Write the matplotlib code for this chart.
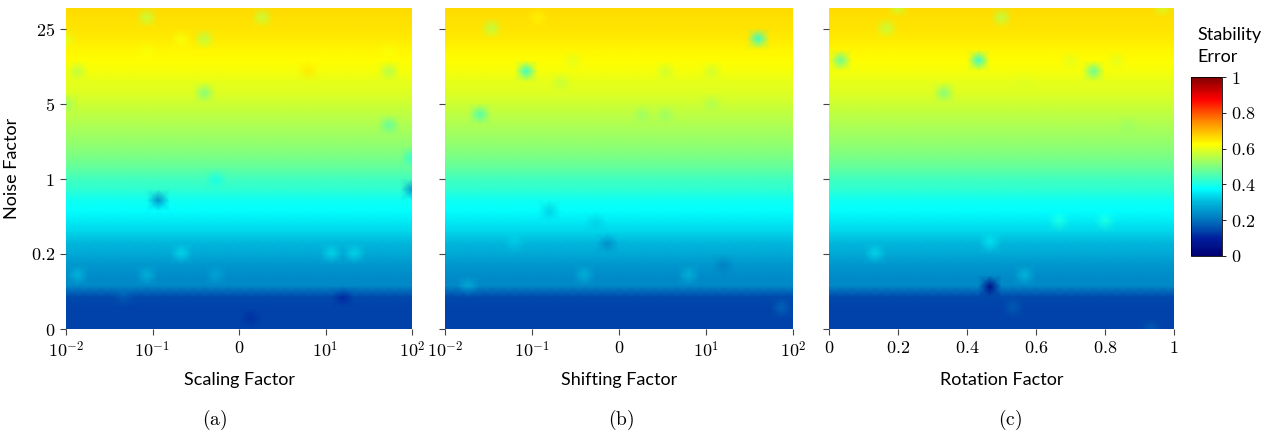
import numpy as np
import matplotlib.pyplot as plt
from matplotlib.colors import LinearSegmentedColormap, Normalize
from matplotlib.cm import ScalarMappable

plt.rcParams['mathtext.fontset'] = 'cm'
plt.rcParams['font.family'] = ['Lato', 'DejaVu Sans']

# noise levels (rows, bottom -> top) and factor levels (columns)
noise_tick_labels = ["$0$", "$0.2$", "$1$", "$5$", "$25$"]
log_tick_labels = ["$10^{-2}$", "$10^{-1}$", "$0$", "$10^{1}$", "$10^{2}$"]
rot_tick_labels = ["$0$", "$0.2$", "$0.4$", "$0.6$", "$0.8$", "$1$"]
n_cols = 31

# mean stability error for each noise level (31 grid rows, bottom -> top)
base_profile = [0.14, 0.14, 0.14, 0.145, 0.23, 0.235, 0.25, 0.28, 0.30, 0.33,
                0.355, 0.375, 0.39, 0.42, 0.44, 0.47, 0.495, 0.515, 0.53, 0.545,
                0.56, 0.575, 0.59, 0.60, 0.615, 0.625, 0.635, 0.645, 0.655, 0.66,
                0.665]

# individual grid points that deviate from the row mean: (column, row, error)
spots_scaling = [
    (7, 29, 0.57), (17, 29, 0.57), (10, 27, 0.62), (12, 27, 0.56), (0, 27, 0.60),
    (7, 26, 0.62), (28, 26, 0.62), (1, 24, 0.56), (28, 24, 0.55), (21, 24, 0.645),
    (12, 22, 0.50), (0, 21, 0.53), (28, 19, 0.47), (30, 16, 0.42), (30, 13, 0.25),
    (8, 12, 0.24), (13, 14, 0.40), (1, 5, 0.30), (7, 5, 0.29), (10, 7, 0.33),
    (23, 7, 0.33), (25, 7, 0.33), (24, 3, 0.11), (16, 1, 0.12), (5, 3, 0.17),
    (13, 5, 0.27),
]
spots_shifting = [
    (4, 28, 0.56), (7, 24, 0.42), (11, 25, 0.60), (10, 23, 0.57), (27, 27, 0.42),
    (3, 20, 0.45), (17, 20, 0.53), (19, 20, 0.53), (19, 24, 0.58), (23, 24, 0.58),
    (23, 21, 0.55), (8, 29, 0.64), (9, 11, 0.33), (13, 10, 0.33), (14, 8, 0.24),
    (6, 8, 0.32), (12, 5, 0.29), (21, 5, 0.29), (2, 4, 0.28), (24, 6, 0.22),
    (29, 2, 0.18),
]
spots_rotation = [
    (6, 30, 0.57), (5, 28, 0.57), (15, 29, 0.56), (29, 30, 0.58), (1, 25, 0.47),
    (13, 25, 0.42), (23, 24, 0.47), (21, 25, 0.60), (25, 25, 0.60), (10, 22, 0.50),
    (26, 19, 0.53), (17, 23, 0.59), (14, 4, 0.05), (17, 5, 0.30), (4, 7, 0.33),
    (14, 8, 0.34), (16, 2, 0.17), (20, 10, 0.40), (24, 10, 0.40), (28, 0, 0.17),
]

# jet-like colormap with muted blues
cmap = LinearSegmentedColormap.from_list("stab", [
    (0.00, (0.0, 0.0, 0.45)),
    (0.10, (0.0, 0.12, 0.62)),
    (0.14, (0.0, 0.27, 0.67)),
    (0.22, (0.0, 0.51, 0.77)),
    (0.30, (0.0, 0.72, 0.86)),
    (0.375, (0.0, 1.0, 1.0)),
    (0.50, (0.5, 1.0, 0.5)),
    (0.625, (1.0, 1.0, 0.0)),
    (0.75, (1.0, 0.55, 0.0)),
    (0.875, (1.0, 0.0, 0.0)),
    (1.00, (0.5, 0.0, 0.0)),
])
norm = Normalize(0, 1)

W, H = 1266, 433
fig = plt.figure(figsize=(W / 100, H / 100), dpi=100)

row_step = 10.75 / 75.0
ytop = 321 / 75.0

panels = [
    (66, 346, spots_scaling, "Scaling Factor", log_tick_labels, 4.0, 215, "a"),
    (445, 348, spots_shifting, "Shifting Factor", log_tick_labels, 4.0, 621, "b"),
    (829, 345, spots_rotation, "Rotation Factor", rot_tick_labels, 1.0, 1010, "c"),
]

for i, (x0, w, spots, xlabel, xticklabels, xmax, cap_x, cap) in enumerate(panels):
    ax = fig.add_axes([x0 / W, (H - 329) / H, w / W, 321 / H])
    Z = np.tile(np.array(base_profile)[:, None], (1, n_cols))
    for c, r, v in spots:
        Z[r, c] = v
    xs = np.linspace(0, xmax, n_cols)
    ys = np.arange(len(base_profile)) * row_step
    X, Y = np.meshgrid(xs, ys)
    ax.pcolormesh(X, Y, Z, cmap=cmap, norm=norm, shading='gouraud')
    ax.set_xlim(0, xmax)
    ax.set_ylim(0, ytop)
    for s in ax.spines.values():
        s.set_visible(False)
    ax.set_xticks(np.linspace(0, xmax, len(xticklabels)))
    ax.set_xticklabels(xticklabels, fontsize=13)
    ax.set_yticks(range(5))
    if i == 0:
        ax.set_yticklabels(noise_tick_labels, fontsize=13)
        ax.set_ylabel("Noise Factor", fontsize=13, labelpad=8)
    else:
        ax.set_yticklabels([])
    ax.tick_params(direction='out', length=4, width=0.8, color='#444444', pad=4)
    ax.set_xlabel(xlabel, fontsize=13)
    ax.xaxis.set_label_coords(0.5, -0.135)
    fig.text(cap_x / W, 1 - 420 / H, r"$(\mathrm{%s})$" % cap, fontsize=14,
             ha='center', va='center')

# colorbar
cax = fig.add_axes([1191 / W, (H - 256) / H, 31 / W, 179 / H])
cb = fig.colorbar(ScalarMappable(norm=norm, cmap=cmap), cax=cax)
cb.set_ticks(np.linspace(0, 1, 6))
cb.set_ticklabels(["$0$", "$0.2$", "$0.4$", "$0.6$", "$0.8$", "$1$"])
cb.ax.tick_params(labelsize=13, length=3, width=0.6)
cb.outline.set_linewidth(0.6)
fig.text(1197 / W, 1 - 35 / H, "Stability", fontsize=13, va='center')
fig.text(1197 / W, 1 - 57 / H, "Error", fontsize=13, va='center')

fig.savefig("out.png", dpi=100)
